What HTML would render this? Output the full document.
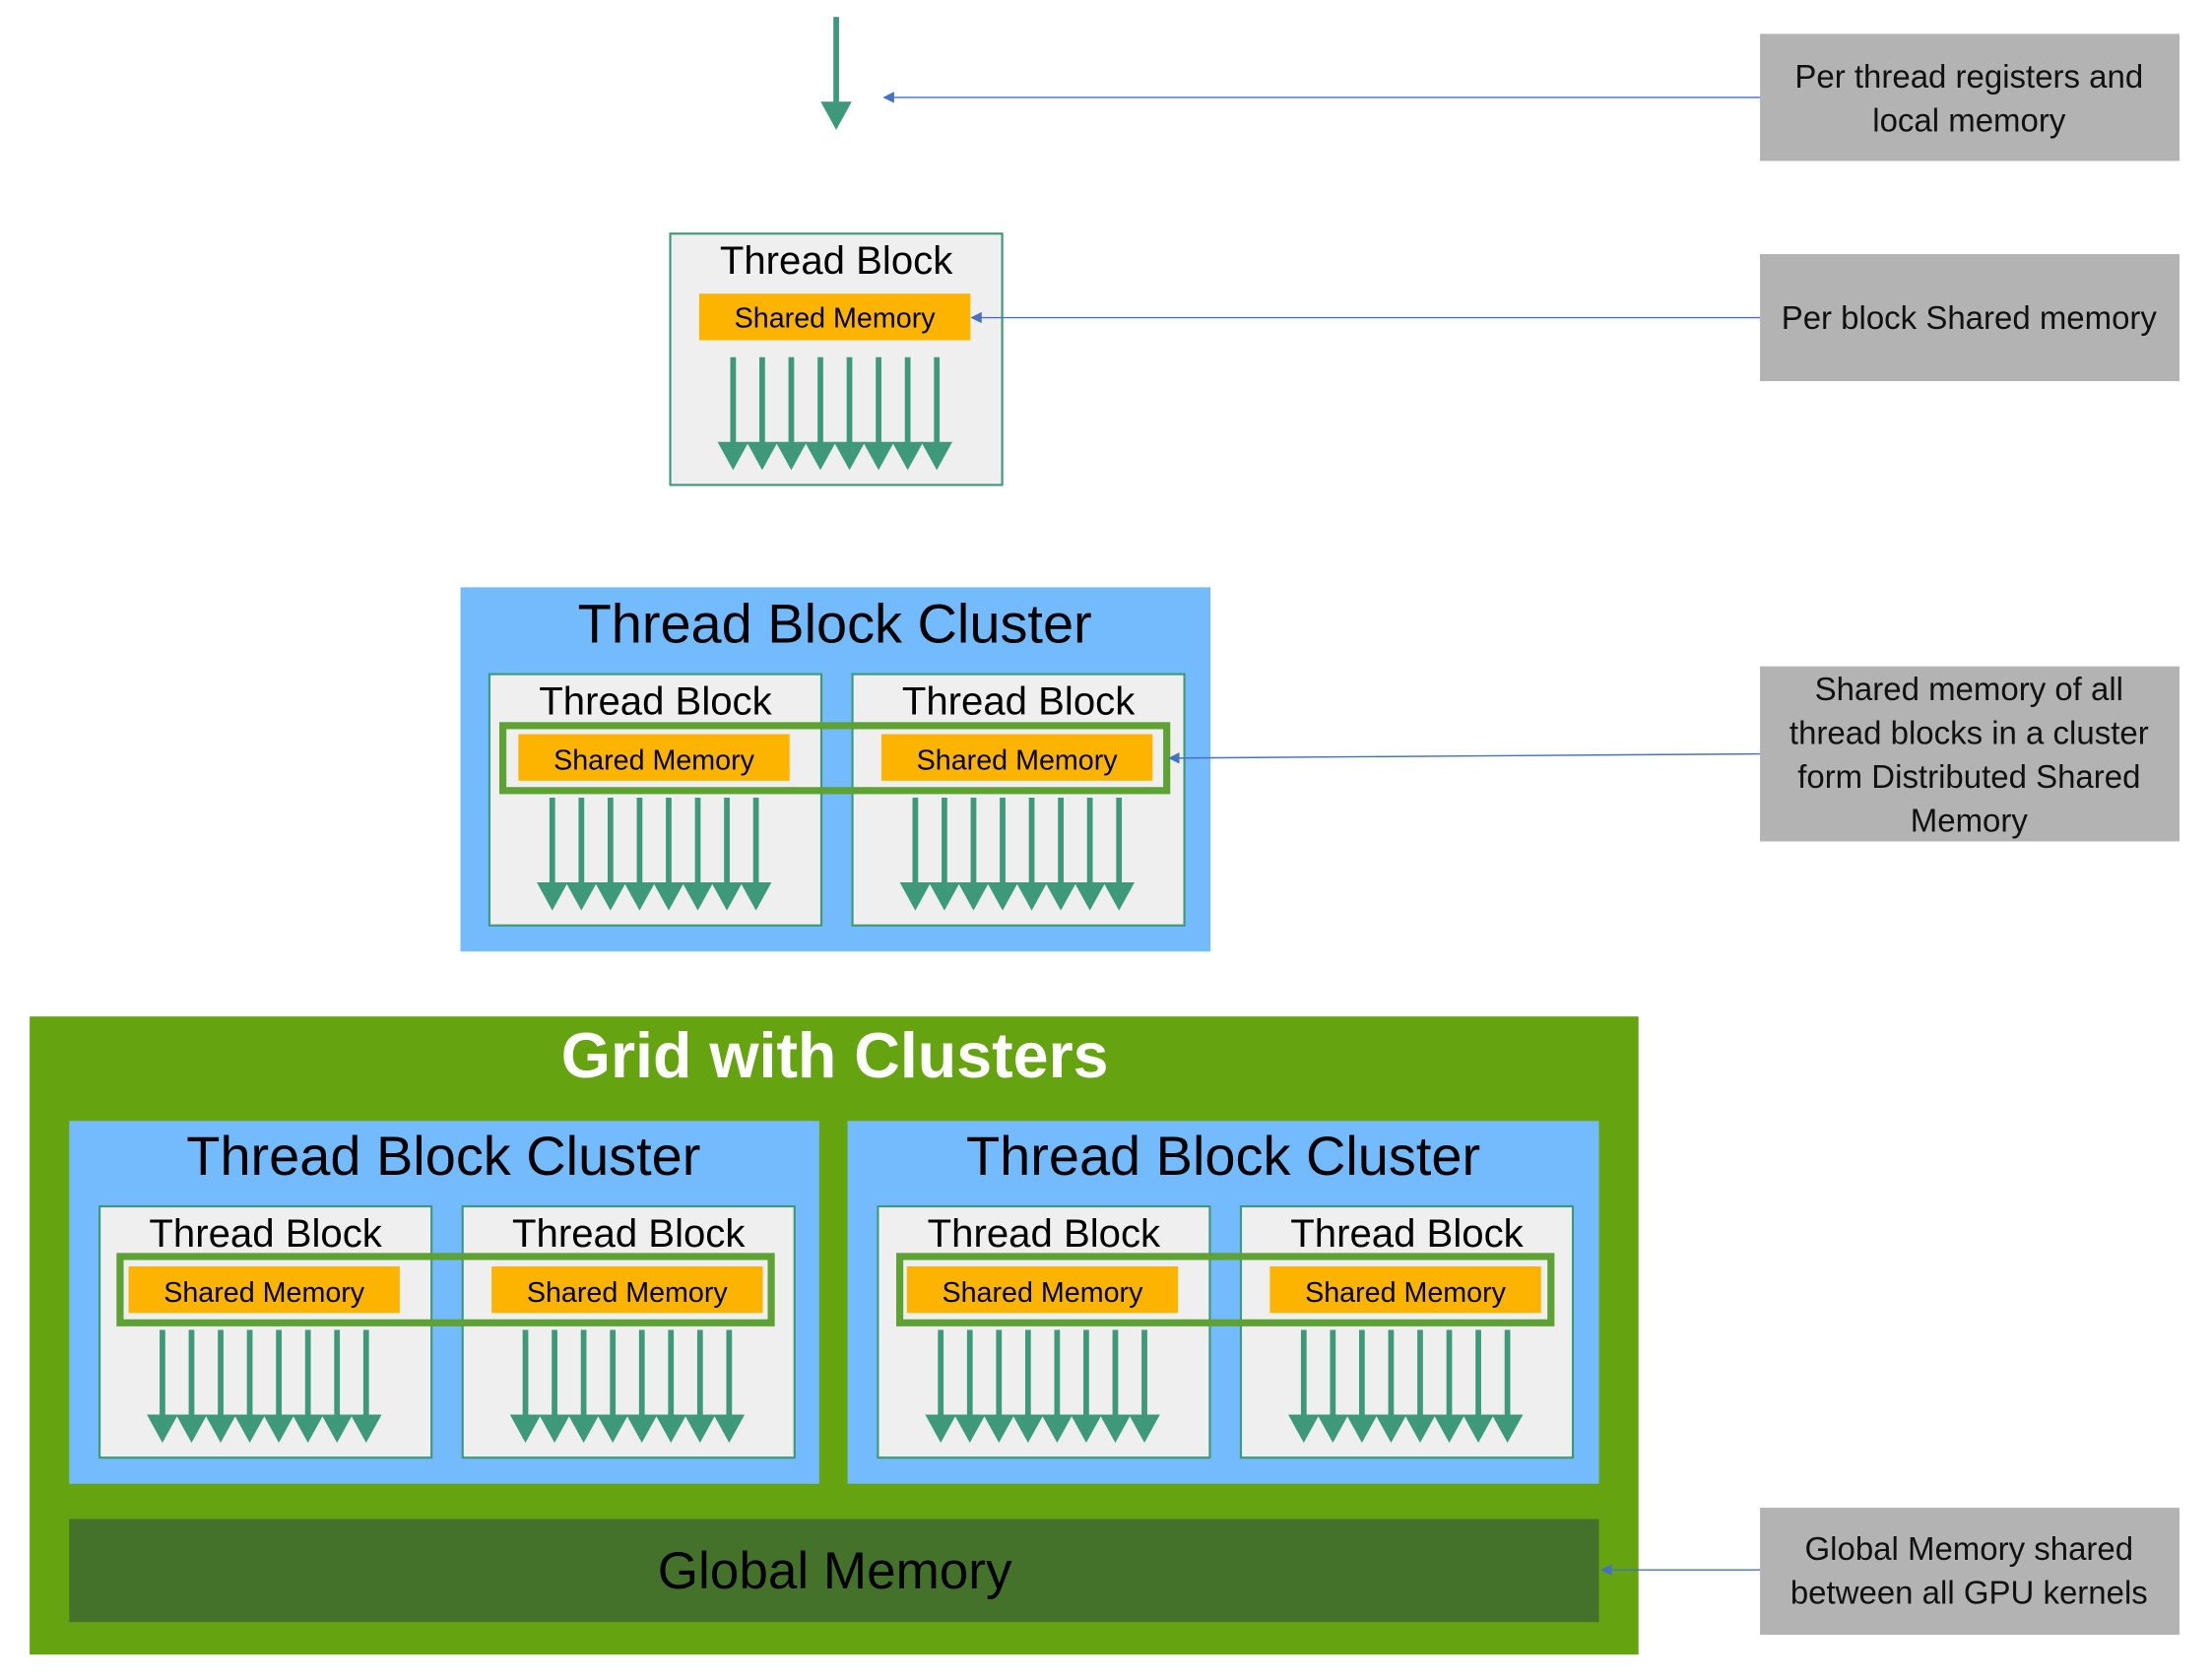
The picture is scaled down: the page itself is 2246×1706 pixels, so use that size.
<!DOCTYPE html>
<html><head><meta charset="utf-8"><style>
html,body{margin:0;padding:0;background:#fff;}
svg{display:block;}
text{font-family:"Liberation Sans","DejaVu Sans",sans-serif;}
</style></head><body>
<svg width="2246" height="1706" viewBox="0 0 1566 1190" preserveAspectRatio="none" xmlns="http://www.w3.org/2000/svg">
<defs>
<g id="arr">
<g fill="#3e987a">
<rect x="43" y="88" width="4" height="62"/><rect x="63.6" y="88" width="4" height="62"/><rect x="84.2" y="88" width="4" height="62"/><rect x="104.8" y="88" width="4" height="62"/><rect x="125.4" y="88" width="4" height="62"/><rect x="146" y="88" width="4" height="62"/><rect x="166.6" y="88" width="4" height="62"/><rect x="187.2" y="88" width="4" height="62"/>
<polygon points="34,148 56,148 45,168"/><polygon points="54.6,148 76.6,148 65.6,168"/><polygon points="75.2,148 97.2,148 86.2,168"/><polygon points="95.8,148 117.8,148 106.8,168"/><polygon points="116.4,148 138.4,148 127.4,168"/><polygon points="137,148 159,148 148,168"/><polygon points="157.6,148 179.6,148 168.6,168"/><polygon points="178.2,148 200.2,148 189.2,168"/>
</g></g>
<g id="blk">
<rect x="0.5" y="0.5" width="235" height="178" fill="#efefef" stroke="#3e987a" stroke-width="1.5"/>
<rect x="21" y="43" width="192" height="33" fill="#fdb400"/>
<use href="#arr"/>
</g>
<marker id="m" markerWidth="8" markerHeight="8" refX="7" refY="4" orient="auto" markerUnits="userSpaceOnUse"><polygon points="0,0 8,4 0,8" fill="#4472c4"/></marker>
</defs>

<rect x="590" y="12" width="4" height="62" fill="#3e987a"/>
<polygon points="581,72 603,72 592,92" fill="#3e987a"/>

<g transform="translate(474,165)"><use href="#blk"/>
<text x="118" y="29" font-size="28" text-anchor="middle">Thread Block</text>
<text x="117" y="67" font-size="20" text-anchor="middle">Shared Memory</text></g>

<rect x="326" y="416" width="531" height="258" fill="#74bbfd"/>
<text x="591" y="455" font-size="39" text-anchor="middle">Thread Block Cluster</text>
<g transform="translate(346,477)"><use href="#blk"/>
<text x="118" y="29" font-size="28" text-anchor="middle">Thread Block</text>
<text x="117" y="68" font-size="20" text-anchor="middle">Shared Memory</text></g>
<g transform="translate(603,477)"><use href="#blk"/>
<text x="118" y="29" font-size="28" text-anchor="middle">Thread Block</text>
<text x="117" y="68" font-size="20" text-anchor="middle">Shared Memory</text></g>
<rect x="356" y="514" width="470" height="46" fill="none" stroke="#5ea234" stroke-width="5"/>

<rect x="21" y="720" width="1139" height="452" fill="#66a311"/>
<text x="591" y="763" font-size="45" font-weight="bold" fill="#fff" text-anchor="middle">Grid with Clusters</text>
<rect x="49" y="794" width="531" height="257" fill="#74bbfd"/>
<rect x="600" y="794" width="532" height="257" fill="#74bbfd"/>
<text x="314" y="832" font-size="39" text-anchor="middle">Thread Block Cluster</text>
<text x="866" y="832" font-size="39" text-anchor="middle">Thread Block Cluster</text>
<g transform="translate(70,854)"><use href="#blk"/>
<text x="118" y="29" font-size="28" text-anchor="middle">Thread Block</text>
<text x="117" y="68" font-size="20" text-anchor="middle">Shared Memory</text></g>
<g transform="translate(327,854)"><use href="#blk"/>
<text x="118" y="29" font-size="28" text-anchor="middle">Thread Block</text>
<text x="117" y="68" font-size="20" text-anchor="middle">Shared Memory</text></g>
<g transform="translate(621,854)"><use href="#blk"/>
<text x="118" y="29" font-size="28" text-anchor="middle">Thread Block</text>
<text x="117" y="68" font-size="20" text-anchor="middle">Shared Memory</text></g>
<g transform="translate(878,854)"><use href="#blk"/>
<text x="118" y="29" font-size="28" text-anchor="middle">Thread Block</text>
<text x="117" y="68" font-size="20" text-anchor="middle">Shared Memory</text></g>
<rect x="85" y="890" width="461" height="47" fill="none" stroke="#5ea234" stroke-width="5"/>
<rect x="637" y="890" width="461" height="47" fill="none" stroke="#5ea234" stroke-width="5"/>
<rect x="49" y="1076" width="1083" height="73" fill="#44722b"/>
<text x="591" y="1125" font-size="37" text-anchor="middle">Global Memory</text>

<g fill="#b3b3b3">
<rect x="1246" y="24" width="297" height="90"/><rect x="1246" y="180" width="297" height="90"/>
<rect x="1246" y="472" width="297" height="124"/><rect x="1246" y="1068" width="297" height="90"/>
</g>
<g font-size="23" text-anchor="middle" fill="#111">
<text x="1394" y="62">Per thread registers and</text><text x="1394" y="93">local memory</text>
<text x="1394" y="233">Per block Shared memory</text>
<text x="1394" y="496">Shared memory of all</text><text x="1394" y="527">thread blocks in a cluster</text><text x="1394" y="558">form Distributed Shared</text><text x="1394" y="589">Memory</text>
<text x="1394" y="1105">Global Memory shared</text><text x="1394" y="1136">between all GPU kernels</text>
</g>
<g stroke="#4472c4" stroke-width="1" marker-end="url(#m)">
<line x1="1246" y1="69" x2="626" y2="69"/>
<line x1="1246" y1="225" x2="688" y2="225"/>
<line x1="1246" y1="534" x2="828" y2="537"/>
<line x1="1246" y1="1112" x2="1134" y2="1112"/>
</g>
</svg>
</body></html>
